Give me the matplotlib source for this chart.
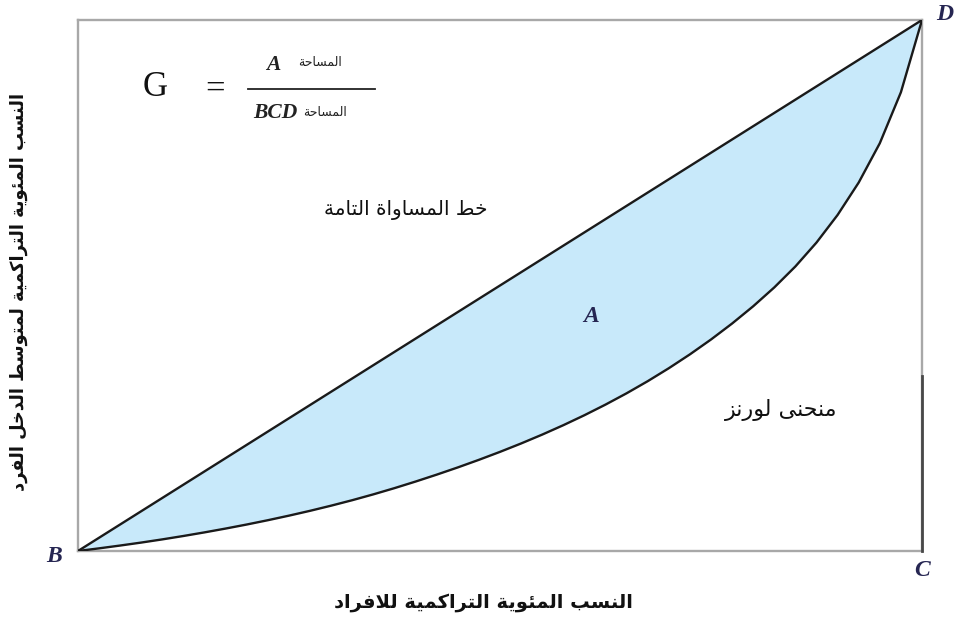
import matplotlib

matplotlib.use("Agg")
import matplotlib.pyplot as plt
from matplotlib.lines import Line2D

# cumulative share of people (%) vs cumulative share of income (%)
equality_x = [0, 100]
equality_y = [0, 100]
lorenz_x = [0, 2.5, 5, 7.5, 10, 12.5, 15, 17.5, 20, 22.5, 25, 27.5, 30, 32.5,
            35, 37.5, 40, 42.5, 45, 47.5, 50, 52.5, 55, 57.5, 60, 62.5, 65,
            67.5, 70, 72.5, 75, 77.5, 80, 82.5, 85, 87.5, 90, 92.5, 95, 97.5, 100]
lorenz_y = [0, 0.50, 1.03, 1.59, 2.19, 2.83, 3.51, 4.23, 4.99, 5.80, 6.66,
            7.57, 8.54, 9.57, 10.67, 11.84, 13.08, 14.38, 15.74, 17.17, 18.67,
            20.25, 21.92, 23.69, 25.57, 27.57, 29.70, 31.98, 34.42, 37.03,
            39.83, 42.84, 46.09, 49.64, 53.59, 58.09, 63.29, 69.39, 76.79,
            86.39, 100]
lower_edge_top = 33  # right edge is drawn dark from C up to here

x_label = "النسب المئوية التراكمية للافراد"
y_label = "النسب المئوية التراكمية لمتوسط الدخل الفرد"
equality_label = "خط المساواة التامة"
lorenz_label = "منحنى لورنز"
area_word = "المساحة"

W, H = 957, 617

# Arabic presentation forms: isolated, final, initial, medial
FORMS = {
    "ا": (0xFE8D, 0xFE8E, None, None),
    "ب": (0xFE8F, 0xFE90, 0xFE91, 0xFE92),
    "ة": (0xFE93, 0xFE94, None, None),
    "ت": (0xFE95, 0xFE96, 0xFE97, 0xFE98),
    "ح": (0xFEA1, 0xFEA2, 0xFEA3, 0xFEA4),
    "خ": (0xFEA5, 0xFEA6, 0xFEA7, 0xFEA8),
    "د": (0xFEA9, 0xFEAA, None, None),
    "ر": (0xFEAD, 0xFEAE, None, None),
    "ز": (0xFEAF, 0xFEB0, None, None),
    "س": (0xFEB1, 0xFEB2, 0xFEB3, 0xFEB4),
    "ط": (0xFEC1, 0xFEC2, 0xFEC3, 0xFEC4),
    "ف": (0xFED1, 0xFED2, 0xFED3, 0xFED4),
    "ك": (0xFED9, 0xFEDA, 0xFEDB, 0xFEDC),
    "ل": (0xFEDD, 0xFEDE, 0xFEDF, 0xFEE0),
    "م": (0xFEE1, 0xFEE2, 0xFEE3, 0xFEE4),
    "ن": (0xFEE5, 0xFEE6, 0xFEE7, 0xFEE8),
    "و": (0xFEED, 0xFEEE, None, None),
    "ى": (0xFEEF, 0xFEF0, 0xFBE8, 0xFBE9),
    "ي": (0xFEF1, 0xFEF2, 0xFEF3, 0xFEF4),
    "ئ": (0xFE89, 0xFE8A, 0xFE8B, 0xFE8C),
}


def dual(c):
    return c in FORMS and FORMS[c][2] is not None


def shape(text):
    """Join Arabic letters and put them in visual (left-to-right) order."""
    out = []
    i = 0
    while i < len(text):
        c = text[i]
        if c not in FORMS:
            out.append(c)
            i += 1
            continue
        linked_prev = i > 0 and dual(text[i - 1])
        if c == "ل" and i + 1 < len(text) and text[i + 1] == "ا":
            out.append(chr(0xFEFC if linked_prev else 0xFEFB))
            i += 2
            continue
        linked_next = dual(c) and i + 1 < len(text) and text[i + 1] in FORMS
        iso, fin, ini, med = FORMS[c]
        if linked_prev and linked_next:
            out.append(chr(med))
        elif linked_prev:
            out.append(chr(fin))
        elif linked_next:
            out.append(chr(ini))
        else:
            out.append(chr(iso))
        i += 1
    return "".join(reversed(out))


def fx(px):
    return px / W


def fy(py):
    return 1 - py / H


fig = plt.figure(figsize=(W / 100, H / 100), dpi=100)
ax = fig.add_axes([fx(78), fy(551), (922 - 78) / W, (551 - 20) / H])
ax.set_xlim(0, 100)
ax.set_ylim(0, 100)
ax.set_xticks([])
ax.set_yticks([])
for spine in ax.spines.values():
    spine.set_color("#a8a8a8")
    spine.set_linewidth(1.7)

ax.fill_between(lorenz_x, lorenz_y, lorenz_x, color="#c8e9fa", linewidth=0)
ax.plot(equality_x, equality_y, color="#1a1a1a", linewidth=1.7,
        solid_capstyle="round", zorder=4)
ax.plot(lorenz_x, lorenz_y, color="#1a1a1a", linewidth=1.7, zorder=4)
ax.plot([100, 100], [0, lower_edge_top], color="#484848", linewidth=2,
        clip_on=False, zorder=5)

letter = dict(family="Liberation Serif", weight="bold", style="italic",
              color="#262652", fontsize=17)
fig.text(fx(54), fy(557), "B", ha="center", va="center", **letter)
fig.text(fx(922), fy(570), "C", ha="center", va="center", **letter)
fig.text(fx(945), fy(14), "D", ha="center", va="center", **letter)
fig.text(fx(591), fy(316), "A", ha="center", va="center", **letter)

# Gini formula
fig.text(fx(155), fy(88), "G", ha="center", va="center",
         family="Liberation Serif", fontsize=25, color="#111111")
fig.text(fx(215), fy(90), "=", ha="center", va="center",
         family="Liberation Serif", fontsize=25, color="#111111")
fig.add_artist(Line2D([fx(248), fx(375)], [fy(89), fy(89)], color="#222222",
                      linewidth=1.3, transform=fig.transFigure))
fig.text(fx(273), fy(65), "A", ha="center", va="center",
         family="Liberation Serif", weight="bold", style="italic",
         fontsize=15.5, color="#222222")
fig.text(fx(320), fy(62), shape(area_word), ha="center", va="center",
         family="DejaVu Sans", fontsize=9, color="#222222")
fig.text(fx(275), fy(113), "BCD", ha="center", va="center",
         family="Liberation Serif", weight="bold", style="italic",
         fontsize=15.5, color="#222222")
fig.text(fx(325), fy(113), shape(area_word), ha="center", va="center",
         family="DejaVu Sans", fontsize=9, color="#222222")

fig.text(fx(406), fy(210), shape(equality_label), ha="center", va="center",
         family="DejaVu Sans", fontsize=14.5, color="#111111")
fig.text(fx(781), fy(410), shape(lorenz_label), ha="center", va="center",
         family="DejaVu Sans", fontsize=16, color="#111111")

fig.text(fx(483), fy(603), shape(x_label), ha="center", va="center",
         family="DejaVu Sans", weight="bold", fontsize=14, color="#111111")
fig.text(fx(19), fy(292), shape(y_label), ha="center", va="center", rotation=90,
         family="DejaVu Sans", weight="bold", fontsize=12.8, color="#111111")

fig.savefig("out.png", dpi=100)
